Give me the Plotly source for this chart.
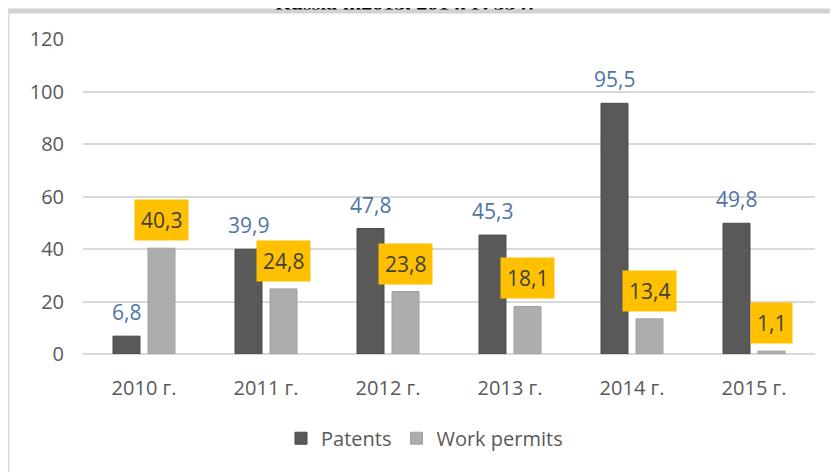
import plotly.graph_objects as go

years = ["2010 г.", "2011 г.", "2012 г.", "2013 г.", "2014 г.", "2015 г."]
patents = [6.8, 39.9, 47.8, 45.3, 95.5, 49.8]
work_permits = [40.3, 24.8, 23.8, 18.1, 13.4, 1.1]
patent_labels = ["6,8", "39,9", "47,8", "45,3", "95,5", "49,8"]
permit_labels = ["40,3", "24,8", "23,8", "18,1", "13,4", "1,1"]
y_ticks = [0, 20, 40, 60, 80, 100, 120]
header_text = "Russia in2015, 2014, P. 354]"

# page body has an 8px margin; the figure is sized to fit the window
OFF = 8
W, H = 838 - OFF, 472 - OFF
ML, MR, MT, MB = 75, 23, 30.5, 117.5
PW = W - ML - MR
PH = H - MT - MB

def px_x(p):  # p in window pixels
    return (p - OFF - ML) / PW

def px_y(p):
    return (H - MB - (p - OFF)) / PH

FONT = "Open Sans"

fig = go.Figure()
fig.add_trace(go.Bar(x=years, y=patents, name="Patents",
                     marker=dict(color="#595959", line=dict(color="#4a4a4a", width=1))))
fig.add_trace(go.Bar(x=years, y=work_permits, name="Work permits",
                     marker=dict(color="#ADADAD", line=dict(color="#a0a0a0", width=1))))

ann = []
for yr, v, t in zip(years, patents, patent_labels):
    ann.append(dict(x=yr, y=v, xref="x", yref="y", text=t, showarrow=False,
                    xshift=-17.5, yshift=24, yanchor="middle",
                    font=dict(family=FONT, size=21, color="#4F74A8")))
for yr, v, t in zip(years, work_permits, permit_labels):
    ann.append(dict(x=yr, y=v, xref="x", yref="y", text=t, showarrow=False,
                    xshift=17.5, yshift=28, yanchor="middle",
                    bgcolor="#FFC000", borderpad=6,
                    font=dict(family=FONT, size=21, color="#404040")))
ann.append(dict(x=px_x(273), y=px_y(1.5), xref="paper", yref="paper",
                text="<b>" + header_text + "</b>", showarrow=False,
                xanchor="left", yanchor="middle",
                font=dict(family="Liberation Serif", size=22, color="#000000")))
# top frame line of the chart box
ann.append(dict(x=px_x(OFF), y=px_y(OFF), xref="paper", yref="paper", text="&nbsp;",
                showarrow=False, xanchor="left", yanchor="top",
                width=W, height=2.5, borderpad=0, bgcolor="#D2D2D2",
                font=dict(size=2)))

shapes = [
    dict(type="rect", xref="paper", yref="paper", x0=px_x(OFF), x1=px_x(W + OFF),
         y0=px_y(OFF), y1=px_y(OFF + 2.5), fillcolor="#D2D2D2", line=dict(width=0),
         layer="above"),
    dict(type="line", xref="paper", yref="paper", x0=px_x(8.8), x1=px_x(8.8),
         y0=px_y(9), y1=px_y(H + OFF + 2), line=dict(color="#DADADA", width=1.5), layer="above"),
]

fig.update_layout(
    width=W, height=H,
    margin=dict(l=ML, r=MR, t=MT, b=MB, pad=0),
    paper_bgcolor="white", plot_bgcolor="white",
    barmode="group", bargap=0.426, bargroupgap=0.229,
    annotations=ann, shapes=shapes,
    showlegend=True,
    legend=dict(orientation="h", x=px_x(281), y=px_y(439), xanchor="left", yanchor="middle",
                font=dict(family=FONT, size=20, color="#595959"),
                bgcolor="rgba(0,0,0,0)"),
    font=dict(family=FONT),
)
fig.update_xaxes(showgrid=False, showline=False, zeroline=False, ticks="",
                 ticklabelstandoff=20,
                 tickfont=dict(family=FONT, size=20, color="#595959"))
fig.update_yaxes(range=[0, 120], tickvals=y_ticks, ticktext=[str(v) for v in y_ticks],
                 showgrid=True, gridcolor="#D9D9D9", gridwidth=1.5,
                 zeroline=True, zerolinecolor="#D9D9D9", zerolinewidth=1.5,
                 showline=False, ticks="", ticklabelstandoff=18,
                 tickfont=dict(family=FONT, size=20, color="#595959"))

fig.write_html("out.html")
